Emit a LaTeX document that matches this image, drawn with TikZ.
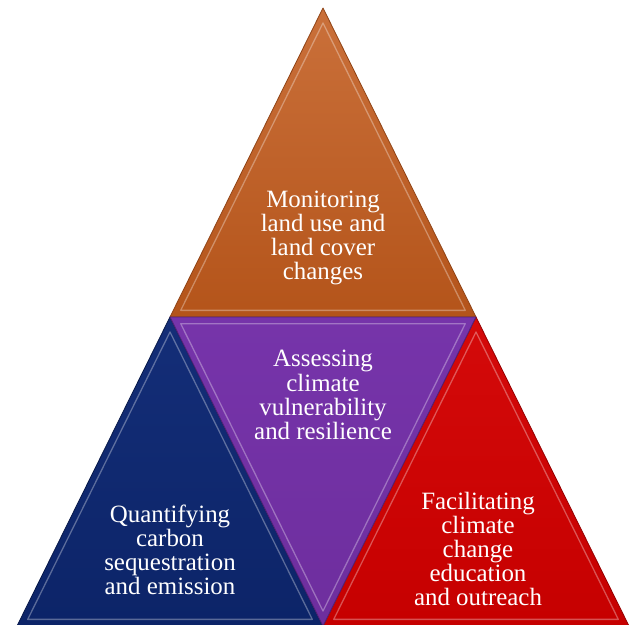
\documentclass[tikz,border=0pt]{standalone}
\usepackage{fontspec}
\setmainfont{Liberation Serif}
\usetikzlibrary{calc}
\definecolor{orangeT}{RGB}{202,112,58}
\definecolor{orangeB}{RGB}{180,84,26}
\definecolor{navyT}{RGB}{20,46,120}
\definecolor{navyB}{RGB}{12,36,104}
\definecolor{purpT}{RGB}{118,52,170}
\definecolor{purpB}{RGB}{110,46,158}
\definecolor{redT}{RGB}{212,10,10}
\definecolor{redB}{RGB}{198,0,0}
\tikzset{
  label/.style={text=white, align=center, inner sep=0pt,
    font=\fontsize{25}{24.3}\selectfont},
  bevel/.style={draw=white, draw opacity=0.32, line width=1.3bp, line join=round},
  rim/.style={line width=0.8bp, line join=round}
}
\begin{document}
\begin{tikzpicture}[x=1bp,y=-1bp]
  \useasboundingbox (0,0) rectangle (632,625);
  \clip (0,0) rectangle (632,625);
  % corners of the large triangle and the edge midpoints
  \coordinate (A)  at (323,8);
  \coordinate (L)  at (17,626);
  \coordinate (R)  at (629,626);
  \coordinate (ML) at (170,317);
  \coordinate (MR) at (476,317);
  \coordinate (MB) at (323,626);
  % incentres of the four small triangles
  \coordinate (It) at (323,222);
  \coordinate (Il) at (170,531);
  \coordinate (Ir) at (476,531);
  \coordinate (Ic) at (323,412);

  % top triangle
  \shade[top color=orangeT, bottom color=orangeB] (A) -- (ML) -- (MR) -- cycle;
  \draw[rim, draw=orangeB!80!black] (A) -- (ML) -- (MR) -- cycle;
  \draw[bevel] ($(It)!0.93!(A)$) -- ($(It)!0.93!(ML)$) -- ($(It)!0.93!(MR)$) -- cycle;

  % bottom-left triangle
  \shade[top color=navyT, bottom color=navyB] (ML) -- (L) -- (MB) -- cycle;
  \draw[rim, draw=navyB!70!black] (ML) -- (L) -- (MB) -- cycle;
  \draw[bevel] ($(Il)!0.93!(ML)$) -- ($(Il)!0.93!(L)$) -- ($(Il)!0.93!(MB)$) -- cycle;

  % bottom-right triangle
  \shade[top color=redT, bottom color=redB] (MR) -- (MB) -- (R) -- cycle;
  \draw[rim, draw=redB!75!black] (MR) -- (MB) -- (R) -- cycle;
  \draw[bevel] ($(Ir)!0.93!(MR)$) -- ($(Ir)!0.93!(MB)$) -- ($(Ir)!0.93!(R)$) -- cycle;

  % centre (inverted) triangle
  \shade[top color=purpT, bottom color=purpB] (ML) -- (MR) -- (MB) -- cycle;
  \draw[rim, draw=purpB!75!black] (ML) -- (MR) -- (MB) -- cycle;
  \draw[bevel] ($(Ic)!0.93!(ML)$) -- ($(Ic)!0.93!(MR)$) -- ($(Ic)!0.93!(MB)$) -- cycle;

  % captions
  \node[label] (top) at (323,238) {Monitoring\\land use and\\land cover\\changes};
  \node[label] (mid) at (323,395) {Assessing\\climate\\vulnerability\\and resilience};
  \node[label] (lft) at (170,550) {Quantifying\\carbon\\sequestration\\and emission};
  \node[label] (rgt) at (478,549) {Facilitating\\climate\\change\\education\\and outreach};
\end{tikzpicture}
\end{document}
